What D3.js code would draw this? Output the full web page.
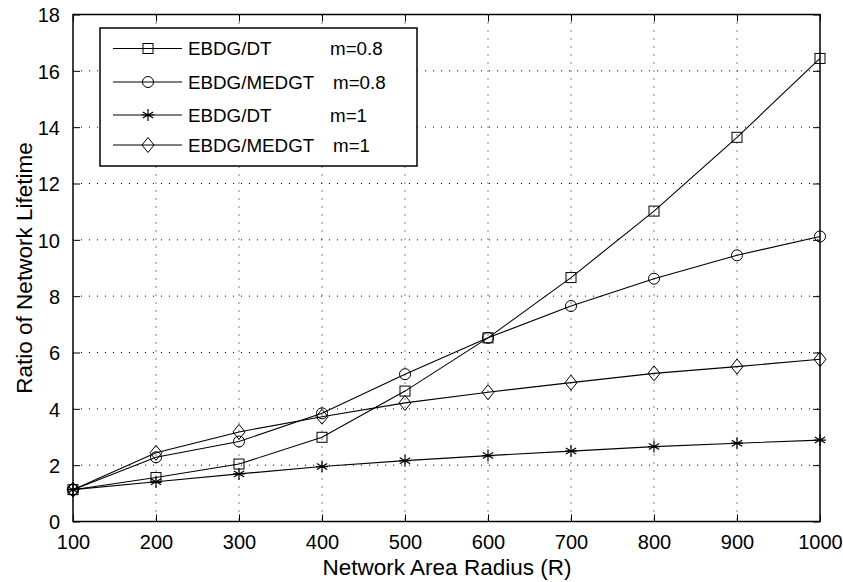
<!DOCTYPE html>
<html>
<head>
<meta charset="utf-8">
<script src="https://cdn.jsdelivr.net/npm/d3@7"></script>
<style>
  body { margin: 0; background: #fff; }
  text { font-family: "Liberation Sans", Arial, sans-serif; fill: #000; }
</style>
</head>
<body>
<div id="dataviz"></div>
<script>
// data
var radius = [100, 200, 300, 400, 500, 600, 700, 800, 900, 1000];
var dtM08 = [1.13, 1.56, 2.04, 2.99, 4.63, 6.52, 8.66, 11.02, 13.64, 16.44];
var medgtM08 = [1.13, 2.28, 2.84, 3.84, 5.23, 6.52, 7.65, 8.62, 9.45, 10.12];
var dtM1 = [1.13, 1.41, 1.69, 1.95, 2.16, 2.34, 2.5, 2.66, 2.78, 2.89];
var medgtM1 = [1.13, 2.44, 3.18, 3.72, 4.21, 4.59, 4.93, 5.26, 5.5, 5.76];
var legendNames = ["EBDG/DT", "EBDG/MEDGT", "EBDG/DT", "EBDG/MEDGT"];
var legendM = ["m=0.8", "m=0.8", "m=1", "m=1"];
var markerTypes = ["square", "circle", "star", "diamond"];
var xTicks = [100, 200, 300, 400, 500, 600, 700, 800, 900, 1000];
var yTicks = [0, 2, 4, 6, 8, 10, 12, 14, 16, 18];

var W = 843, H = 582;
var margin = {top: 14.5, right: 23, bottom: 60.5, left: 73};
var width = W - margin.left - margin.right;
var height = H - margin.top - margin.bottom;

var svg = d3.select("#dataviz")
  .append("svg")
    .attr("width", W)
    .attr("height", H)
  .append("g")
    .attr("transform", "translate(" + margin.left + "," + margin.top + ")");

var x = d3.scaleLinear().domain([100, 1000]).range([0, width]);
var y = d3.scaleLinear().domain([0, 18]).range([height, 0]);

// dotted grid
svg.append("g").selectAll("line")
  .data(xTicks.slice(1, -1))
  .enter().append("line")
    .attr("x1", d => x(d)).attr("x2", d => x(d))
    .attr("y1", 0).attr("y2", height)
    .attr("stroke", "#000").attr("stroke-width", 1)
    .attr("stroke-dasharray", "1,7");
svg.append("g").selectAll("line")
  .data(yTicks.slice(1, -1))
  .enter().append("line")
    .attr("x1", 0).attr("x2", width)
    .attr("y1", d => y(d)).attr("y2", d => y(d))
    .attr("stroke", "#000").attr("stroke-width", 1)
    .attr("stroke-dasharray", "1,7");

// axes with inward ticks
var tickLen = 7;
var xAxis = svg.append("g")
  .attr("transform", "translate(0," + height + ")")
  .call(d3.axisBottom(x).tickValues(xTicks).tickFormat(d3.format("d"))
    .tickSizeInner(-tickLen).tickSizeOuter(0).tickPadding(tickLen + 6));
var yAxis = svg.append("g")
  .call(d3.axisLeft(y).tickValues(yTicks).tickFormat(d3.format("d"))
    .tickSizeInner(-tickLen).tickSizeOuter(0).tickPadding(tickLen + 6));
svg.append("g")
  .call(d3.axisTop(x).tickValues(xTicks).tickSizeInner(-tickLen).tickSizeOuter(0).tickFormat(""));
svg.append("g")
  .attr("transform", "translate(" + width + ",0)")
  .call(d3.axisRight(y).tickValues(yTicks).tickSizeInner(-tickLen).tickSizeOuter(0).tickFormat(""));

svg.selectAll(".domain").remove();
svg.selectAll(".tick line").attr("stroke", "#000");
xAxis.selectAll("text").style("font-size", "20px").attr("dy", "0.71em");
yAxis.selectAll("text").style("font-size", "20px").attr("dy", "0.36em");

svg.append("rect")
  .attr("x", 0).attr("y", 0)
  .attr("width", width).attr("height", height)
  .attr("fill", "none").attr("stroke", "#000").attr("stroke-width", 1.5);

// markers
function drawMarker(g, type, cx, cy) {
  if (type === "square") {
    g.append("rect").attr("x", cx - 5).attr("y", cy - 5).attr("width", 10).attr("height", 10)
      .attr("fill", "none").attr("stroke", "#000").attr("stroke-width", 1);
  } else if (type === "circle") {
    g.append("circle").attr("cx", cx).attr("cy", cy).attr("r", 5.5)
      .attr("fill", "none").attr("stroke", "#000").attr("stroke-width", 1);
  } else if (type === "diamond") {
    g.append("path")
      .attr("d", "M" + cx + "," + (cy - 7.5) + "L" + (cx + 6) + "," + cy + "L" + cx + "," + (cy + 7.5) + "L" + (cx - 6) + "," + cy + "Z")
      .attr("fill", "none").attr("stroke", "#000").attr("stroke-width", 1);
  } else {
    var r = 6, p = "";
    [0, 60, 120].forEach(function(a) {
      var t = (a + 90) * Math.PI / 180;
      p += "M" + (cx + r * Math.cos(t)) + "," + (cy + r * Math.sin(t)) + "L" + (cx - r * Math.cos(t)) + "," + (cy - r * Math.sin(t));
    });
    p += "M" + (cx - r) + "," + cy + "L" + (cx + r) + "," + cy;
    g.append("path").attr("d", p).attr("stroke", "#000").attr("stroke-width", 1.2);
  }
}

var series = [dtM08, medgtM08, dtM1, medgtM1];
var line = d3.line().x((d, i) => x(radius[i])).y(d => y(d));

series.forEach(function(vals, k) {
  var g = svg.append("g");
  g.append("path")
    .datum(vals)
    .attr("d", line)
    .attr("fill", "none")
    .attr("stroke", "#000")
    .attr("stroke-width", 1.1);
  vals.forEach(function(v, i) {
    drawMarker(g, markerTypes[k], x(radius[i]), y(v));
  });
});

// legend
var lg = svg.append("g").attr("transform", "translate(" + (100 - margin.left) + "," + (28 - margin.top) + ")");
lg.append("rect")
  .attr("x", 0).attr("y", 0).attr("width", 317).attr("height", 138)
  .attr("fill", "#fff").attr("stroke", "#000").attr("stroke-width", 1.5);
var rowY = [20.5, 54, 87, 117];
var mX = [230, 233, 230, 233];
legendNames.forEach(function(name, k) {
  var ry = rowY[k];
  lg.append("line").attr("x1", 13).attr("x2", 82).attr("y1", ry).attr("y2", ry)
    .attr("stroke", "#000").attr("stroke-width", 1.1);
  drawMarker(lg, markerTypes[k], 48, ry);
  lg.append("text").attr("x", 88).attr("y", ry).attr("dy", "0.36em")
    .style("font-size", "18.8px").text(name);
  lg.append("text").attr("x", mX[k]).attr("y", ry).attr("dy", "0.36em")
    .style("font-size", "18.8px").text(legendM[k]);
});

// axis labels
svg.append("text")
  .attr("x", 447 - margin.left)
  .attr("y", 575 - margin.top)
  .style("font-size", "22.5px")
  .style("text-anchor", "middle")
  .text("Network Area Radius (R)");

svg.append("text")
  .attr("transform", "translate(" + (32 - margin.left) + "," + (height / 2) + ") rotate(-90)")
  .style("font-size", "22.5px")
  .style("text-anchor", "middle")
  .text("Ratio of Network Lifetime");
</script>
</body>
</html>
